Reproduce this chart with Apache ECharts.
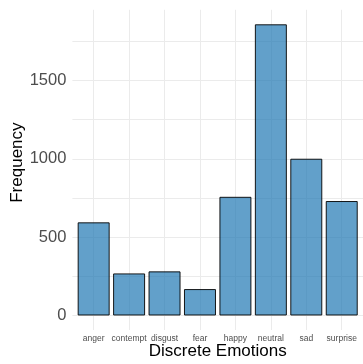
<!DOCTYPE html>
<html>
<head>
<meta charset="utf-8">
<script src="https://cdn.jsdelivr.net/npm/echarts@6/dist/echarts.min.js"></script>
<style>html,body{margin:0;padding:0;background:#fff;}#c{width:363px;height:364px;}</style>
</head>
<body>
<div id="c"></div>
<script>
var categories = ['anger','contempt','disgust','fear','happy','neutral','sad','surprise'];
var frequency = [594, 268, 281, 168, 757, 1858, 1000, 730];
var yTicks = [0, 500, 1000, 1500];

var chart = echarts.init(document.getElementById('c'), null, {renderer: 'canvas'});
var maxV = Math.max.apply(null, frequency);
var pad = maxV * 0.05;
// panel (ggplot-like) box
var panelTop = 9.8, panelBottom = 34, panelLeft = 72.4, panelRight = 0;
var panelW = 363 - panelLeft - panelRight;
var nCat = categories.length;
var unit = panelW / (nCat - 1 + 1.2);        // discrete expansion 0.6 each side
var bandInset = unit * 0.1;                   // band edge is 0.5 from center
var plotH = 364 - panelTop - panelBottom;
var bottomExp = plotH * pad / (maxV + 2 * pad);
var gridCol = '#ebebeb';
var font = 'Liberation Sans, Arial, sans-serif';
var gBase = {outerBoundsMode: 'none', containLabel: false};

chart.setOption({
  animation: false,
  grid: [
    // bars
    Object.assign({left: panelLeft + bandInset, right: panelRight + bandInset, top: panelTop, bottom: panelBottom + bottomExp}, gBase),
    // horizontal grid lines + y labels (full panel width)
    Object.assign({left: panelLeft, right: panelRight, top: panelTop, bottom: panelBottom + bottomExp}, gBase),
    // vertical grid lines + x labels (full panel height)
    Object.assign({left: panelLeft + bandInset, right: panelRight + bandInset, top: panelTop, bottom: panelBottom}, gBase)
  ],
  xAxis: [
    {gridIndex: 0, type: 'category', data: categories, show: false},
    {gridIndex: 1, type: 'category', data: categories, show: false},
    {gridIndex: 2, type: 'category', data: categories,
     boundaryGap: true, position: 'bottom',
     axisLine: {show: false, onZero: false},
     axisTick: {show: false, alignWithLabel: true},
     splitLine: {show: true, interval: 0, alignWithLabel: true, lineStyle: {color: gridCol, width: 1}},
     axisLabel: {interval: 0, color: '#4d4d4d', fontSize: 8.5, fontFamily: font, margin: 4},
     name: 'Discrete Emotions', nameLocation: 'middle', nameGap: 13, nameMoveOverlap: false,
     nameTextStyle: {color: '#000', fontSize: 17, fontFamily: font}
    }
  ],
  yAxis: [
    {gridIndex: 0, type: 'value', min: 0, max: maxV + pad, show: false, splitLine: {show: false}},
    {gridIndex: 1, type: 'value', min: 0, max: maxV + pad, interval: 250,
     axisLine: {show: false}, axisTick: {show: false},
     splitLine: {show: true, showMaxLine: false, lineStyle: {color: gridCol, width: 1}},
     axisLabel: {color: '#4d4d4d', fontSize: 16.5, fontFamily: font, margin: 6, showMaxLabel: false,
       formatter: function (v) { return yTicks.indexOf(v) >= 0 ? String(v) : ''; }},
     name: 'Frequency', nameLocation: 'middle', nameGap: 46.5, nameMoveOverlap: false,
     nameTextStyle: {color: '#000', fontSize: 17, fontFamily: font}
    },
    {gridIndex: 2, type: 'value', min: 0, max: 1, show: false, splitLine: {show: false}}
  ],
  series: [
    {type: 'bar', xAxisIndex: 0, yAxisIndex: 0, data: frequency,
     barCategoryGap: '10%',
     itemStyle: {color: 'rgba(31,119,180,0.7)', borderColor: '#000', borderWidth: 0.9}
    }
  ]
});
</script>
</body>
</html>
